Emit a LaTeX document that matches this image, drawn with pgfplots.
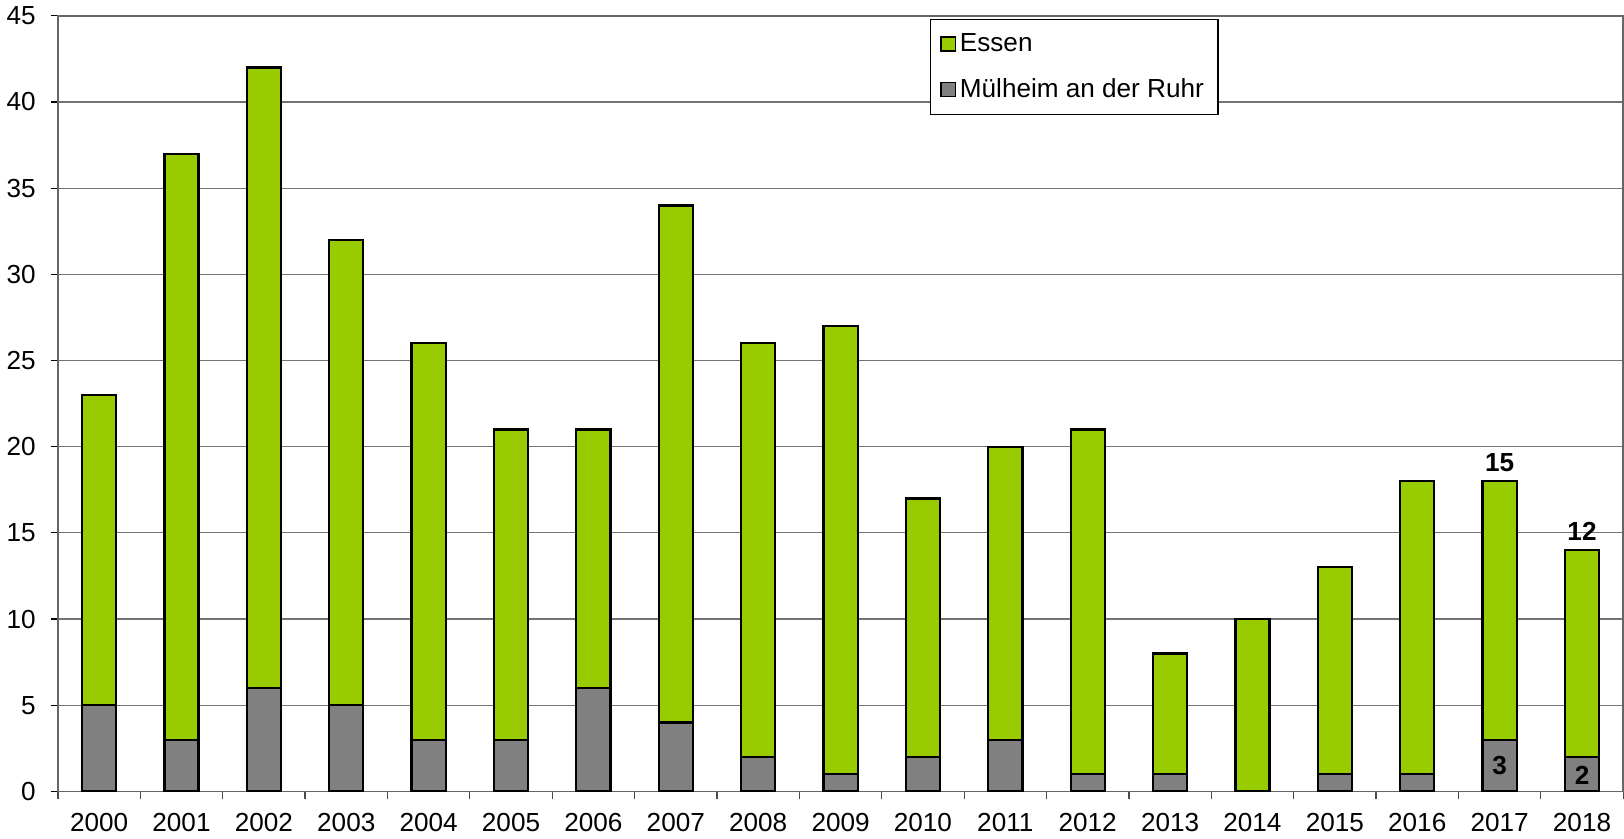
\documentclass[border=0pt]{standalone}
\usepackage{pgfplots}
\pgfplotsset{compat=1.18}
\usepackage{fontspec}
\setmainfont{Liberation Sans}
\definecolor{essen}{HTML}{99CC00}
\definecolor{muelheim}{HTML}{808080}

\begin{document}
\begin{tikzpicture}
\begin{axis}[
  scale only axis, width=779pt, height=386pt,
  ybar stacked, bar width=17pt,
  xmin=-0.5, xmax=18.5, ymin=0, ymax=45,
  xtick=data,
  xticklabels={2000,2001,2002,2003,2004,2005,2006,2007,2008,2009,2010,2011,2012,2013,2014,2015,2016,2017,2018},
  minor xtick={-0.5,0.5,...,18.5},
  ytick={0,5,...,45},
  xtick pos=bottom, ytick pos=left,
  tick align=outside,
  major x tick style={draw=none},
  minor x tick style={black!70, line width=0.6pt},
  minor tick length=4pt,
  major tick length=3.5pt,
  y tick style={black, line width=0.6pt},
  ymajorgrids, grid style={black!55, line width=0.6pt},
  axis line style={black!60, line width=0.8pt},
  tick label style={font=\fontsize{13}{15}\selectfont},
  /pgf/number format/assume math mode=true,
  yticklabel style={xshift=-4pt},
  xticklabel style={yshift=-4pt},
  legend style={at={(0.557,0.996)}, anchor=north west, draw=black, line width=0.6pt,
    font=\fontsize{13}{15}\selectfont, row sep=8pt, inner xsep=5pt, inner ysep=5pt,
    cells={anchor=west}},
  legend image code/.code={\draw[#1, line width=0.7pt] (0pt,-3.5pt) rectangle (7pt,3.5pt);},
  reverse legend,
]
\addplot[fill=muelheim, draw=black, line width=1.1pt] coordinates {
  (0,5) (1,3) (2,6) (3,5) (4,3) (5,3) (6,6) (7,4) (8,2) (9,1)
  (10,2) (11,3) (12,1) (13,1) (14,0) (15,1) (16,1) (17,3) (18,2)};
\addplot[fill=essen, draw=black, line width=1.1pt] coordinates {
  (0,18) (1,34) (2,36) (3,27) (4,23) (5,18) (6,15) (7,30) (8,24) (9,26)
  (10,15) (11,17) (12,20) (13,7) (14,10) (15,12) (16,17) (17,15) (18,12)};
\legend{Mülheim an der Ruhr, Essen}
\coordinate (l15) at (axis cs:17,18.4);
\coordinate (l12) at (axis cs:18,14.4);
\coordinate (l3) at (axis cs:17,1.5);
\coordinate (l2) at (axis cs:18,0.95);
\end{axis}
\begin{scope}[every node/.style={font=\bfseries\fontsize{13}{15}\selectfont, inner sep=1pt}]
\node[anchor=south] at (l15) {15};
\node[anchor=south] at (l12) {12};
\node at (l3) {3};
\node at (l2) {2};
\end{scope}
\end{tikzpicture}
\end{document}
